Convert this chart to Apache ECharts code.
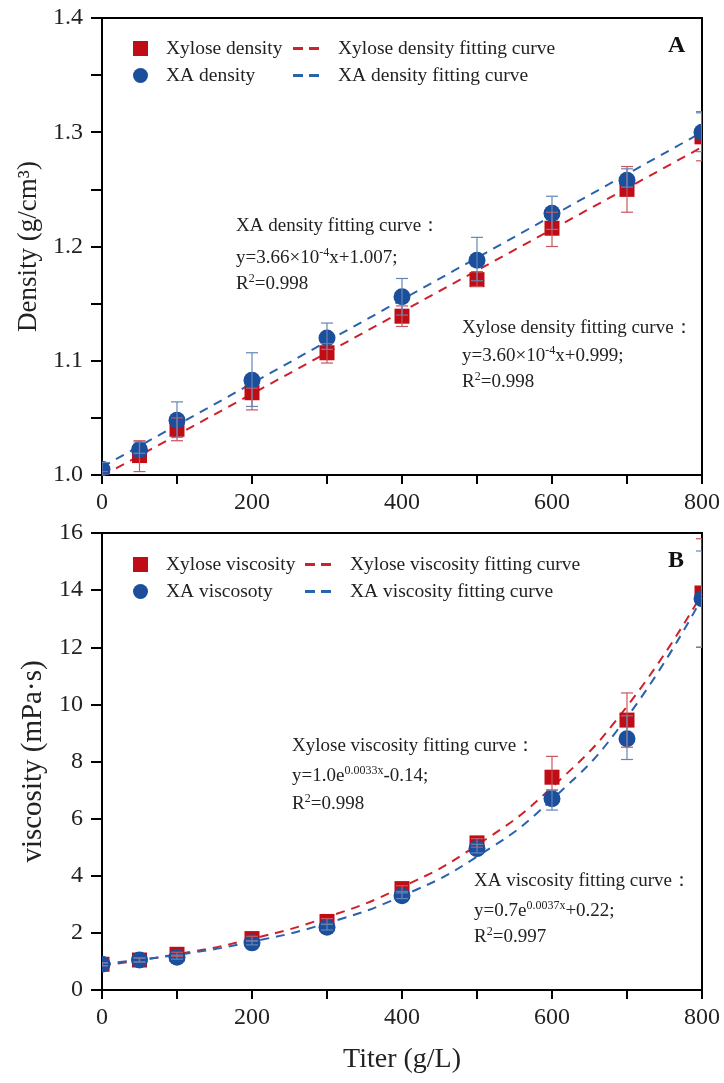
<!DOCTYPE html>
<html>
<head>
<meta charset="utf-8">
<script src="https://cdn.jsdelivr.net/npm/echarts@6/dist/echarts.min.js"></script>
<style>
html,body{margin:0;padding:0;background:#fff;}
#box{width:724px;height:1083px;}
</style>
</head>
<body>
<div id="box"></div>
<script>
// 横坐标 titer (g/L)
var titer = [0, 50, 100, 200, 300, 400, 500, 600, 700, 800];

// 密度 (g/cm3)
var xyDensity = [1.000, 1.017, 1.040, 1.072, 1.107, 1.139, 1.171, 1.216, 1.250, 1.296];
var xyDensityLow = [0.998, 1.003, 1.030, 1.057, 1.098, 1.130, 1.165, 1.200, 1.230, 1.275];
var xyDensityHigh = [1.003, 1.030, 1.050, 1.076, 1.115, 1.148, 1.178, 1.230, 1.270, 1.318];
var xaDensity = [1.005, 1.022, 1.048, 1.083, 1.120, 1.156, 1.188, 1.229, 1.258, 1.300];
var xaDensityLow = [1.000, 1.019, 1.033, 1.060, 1.110, 1.140, 1.170, 1.215, 1.252, 1.283];
var xaDensityHigh = [1.011, 1.029, 1.064, 1.107, 1.133, 1.172, 1.208, 1.244, 1.268, 1.317];

// 拟合线
var fitXDensity = [0, 800];
var xyDensityFit = [0.999, 1.287];
var xaDensityFit = [1.007, 1.300];

// 粘度 (mPa·s)
var xyVisc = [0.90, 1.05, 1.25, 1.80, 2.40, 3.55, 5.15, 7.45, 9.45, 13.90];
var xyViscLow = [0.85, 0.98, 1.18, 1.72, 2.30, 3.45, 5.00, 7.00, 8.50, 12.00];
var xyViscHigh = [0.95, 1.12, 1.32, 1.88, 2.50, 3.65, 5.30, 8.18, 10.40, 15.80];
var xaVisc = [0.90, 1.05, 1.15, 1.65, 2.20, 3.30, 4.95, 6.70, 8.80, 13.70];
var xaViscLow = [0.85, 0.98, 1.08, 1.58, 2.10, 3.20, 4.80, 6.30, 8.07, 12.00];
var xaViscHigh = [0.95, 1.12, 1.22, 1.72, 2.30, 3.40, 5.10, 7.00, 9.60, 15.37];

var fitXVisc = [0, 100, 200, 300, 400, 500, 600, 700, 800];
var xyViscFit = [0.86, 1.25, 1.79, 2.55, 3.60, 5.07, 7.10, 9.93, 13.87];
var xaViscFit = [0.92, 1.23, 1.69, 2.34, 3.29, 4.67, 6.67, 9.55, 13.73];

var RED = '#c00c14';
var BLUE = '#1b4e9b';
var RED_ERR = '#c8565c';
var BLUE_ERR = '#6386b8';
var RED_LINE = '#d0202c';
var BLUE_LINE = '#2a62ad';
var FONT = 'Liberation Serif';
var DASH_ICON = 'path://M0,0H10V3H0Z M16,0H26V3H16Z';

function pairs(xs, ys) {
	var arr = [];
	for (var i = 0; i < xs.length; i++) arr.push([xs[i], ys[i]]);
	return arr;
}
function triples(xs, lo, hi) {
	var arr = [];
	for (var i = 0; i < xs.length; i++) arr.push([xs[i], lo[i], hi[i]]);
	return arr;
}

// 误差棒
function errorSeries(name, idx, data, color) {
	return {
		name: name,
		type: 'custom',
		xAxisIndex: idx,
		yAxisIndex: idx,
		clip: true,
		z: 4,
		renderItem: function (params, api) {
			var x = api.value(0);
			var lo = api.coord([x, api.value(1)]);
			var hi = api.coord([x, api.value(2)]);
			var w = 6;
			var st = { stroke: color, lineWidth: 1.2 };
			return {
				type: 'group',
				children: [
					{ type: 'line', shape: { x1: lo[0], y1: lo[1], x2: hi[0], y2: hi[1] }, style: st },
					{ type: 'line', shape: { x1: lo[0] - w, y1: lo[1], x2: lo[0] + w, y2: lo[1] }, style: st },
					{ type: 'line', shape: { x1: hi[0] - w, y1: hi[1], x2: hi[0] + w, y2: hi[1] }, style: st }
				]
			};
		},
		encode: { x: 0, y: [1, 2] },
		data: data
	};
}

// 数据点(custom 以便在坐标系边缘裁切)
function markerSeries(name, idx, data, color, shape) {
	return {
		name: name,
		type: 'custom',
		xAxisIndex: idx,
		yAxisIndex: idx,
		clip: true,
		z: 3,
		itemStyle: { color: color },
		renderItem: function (params, api) {
			var p = api.coord([api.value(0), api.value(1)]);
			if (shape === 'rect') {
				return { type: 'rect', shape: { x: p[0] - 7.5, y: p[1] - 7.5, width: 15, height: 15 }, style: { fill: color } };
			}
			return { type: 'circle', shape: { cx: p[0], cy: p[1], r: 8.5 }, style: { fill: color } };
		},
		encode: { x: 0, y: 1 },
		data: data
	};
}

function fitSeries(name, idx, data, color, smooth) {
	return {
		name: name, type: 'line', xAxisIndex: idx, yAxisIndex: idx,
		symbol: 'none', smooth: smooth, z: 2, data: data,
		lineStyle: { color: color, width: 2, type: [9, 7] }, itemStyle: { color: color }
	};
}

var tickStyle = { color: '#000', width: 2 };
var tickLabel = { color: '#222', fontFamily: FONT, fontSize: 24, fontWeight: 'normal' };

function xAxisFor(idx, nameShow) {
	return {
		type: 'value',
		gridIndex: idx,
		min: 0, max: 800, interval: 200,
		axisLine: { lineStyle: { color: '#000', width: 2 } },
		axisTick: { inside: false, length: 9, lineStyle: tickStyle },
		minorTick: { show: true, splitNumber: 2, length: 9, lineStyle: tickStyle },
		splitLine: { show: false },
		axisLabel: Object.assign({ margin: 16 }, tickLabel),
		name: nameShow ? 'Titer (g/L)' : '',
		nameLocation: 'middle',
		nameGap: 56,
		nameTextStyle: { color: '#222', fontFamily: FONT, fontSize: 28 }
	};
}

function legendPair(top, left1, left2, names) {
	return [
		{
			left: left1, top: top, orient: 'vertical', itemGap: 0, itemWidth: 15, itemHeight: 15,
			textStyle: { fontFamily: FONT, fontSize: 19.5, color: '#222', lineHeight: 27, padding: [0, 0, 0, 13] },
			data: [{ name: names[0], icon: 'rect' }, { name: names[1], icon: 'circle' }]
		},
		{
			left: left2, top: top, orient: 'vertical', itemGap: 0, itemWidth: 26, itemHeight: 3,
			textStyle: { fontFamily: FONT, fontSize: 19.5, color: '#222', lineHeight: 27, padding: [0, 0, 0, 14] },
			data: [{ name: names[2], icon: DASH_ICON }, { name: names[3], icon: DASH_ICON }]
		}
	];
}

// 拟合公式注释
var rich = {
	t: { fontSize: 19, fontFamily: FONT, color: '#222', lineHeight: 22 },
	s: { fontSize: 12, fontFamily: FONT, color: '#222', lineHeight: 14, verticalAlign: 'top' }
};
function note(left, centers, lines) {
	var out = [];
	for (var i = 0; i < lines.length; i++) {
		out.push({
			type: 'text',
			left: left,
			top: centers[i] - 11,
			style: { text: lines[i], rich: rich, fontFamily: FONT, fontSize: 19, fill: '#222' }
		});
	}
	return out;
}

var dom = document.getElementById('box');
var myChart = echarts.init(dom);
var option = {
	backgroundColor: '#fff',
	animation: false,
	textStyle: { fontFamily: FONT },
	grid: [
		{ left: 102, top: 18, width: 600, height: 457, show: true, borderColor: '#000', borderWidth: 2 },
		{ left: 102, top: 533, width: 600, height: 457, show: true, borderColor: '#000', borderWidth: 2 }
	],
	xAxis: [xAxisFor(0, false), xAxisFor(1, true)],
	yAxis: [
		{
			type: 'value', gridIndex: 0,
			min: 1.0, max: 1.4, interval: 0.1,
			axisLine: { lineStyle: { color: '#000', width: 2 } },
			axisTick: { inside: false, length: 11, lineStyle: tickStyle },
			minorTick: { show: true, splitNumber: 2, length: 11, lineStyle: tickStyle },
			splitLine: { show: false },
			axisLabel: Object.assign({ margin: 19, formatter: function (v) { return v.toFixed(1); } }, tickLabel),
			name: 'Density (g/cm³)',
			nameLocation: 'middle',
			nameGap: 56,
			nameTextStyle: { color: '#222', fontFamily: FONT, fontSize: 27 }
		},
		{
			type: 'value', gridIndex: 1,
			min: 0, max: 16, interval: 2,
			axisLine: { lineStyle: { color: '#000', width: 2 } },
			axisTick: { inside: false, length: 11, lineStyle: tickStyle },
			splitLine: { show: false },
			axisLabel: Object.assign({ margin: 19 }, tickLabel),
			name: 'viscosity (mPa·s)',
			nameLocation: 'middle',
			nameGap: 48,
			nameTextStyle: { color: '#222', fontFamily: FONT, fontSize: 29 }
		}
	],
	legend: legendPair(30, 128, 288, ['Xylose density', 'XA density', 'Xylose density fitting curve', 'XA density fitting curve'])
		.concat(legendPair(546, 128, 300, ['Xylose viscosity', 'XA viscosoty', 'Xylose viscosity fitting curve', 'XA viscosity fitting curve'])),
	graphic: [
		{ type: 'text', left: 668, top: 34, style: { text: 'A', font: 'bold 24px "Liberation Serif"', fill: '#111' } },
		{ type: 'text', left: 668, top: 549, style: { text: 'B', font: 'bold 24px "Liberation Serif"', fill: '#111' } }
	]
		.concat(note(236, [228, 258, 284], [
			'{t|XA density fitting curve：}',
			'{t|y=3.66×10}{s|-4}{t|x+1.007;}',
			'{t|R}{s|2}{t|=0.998}'
		]))
		.concat(note(462, [330, 356, 382], [
			'{t|Xylose density fitting curve：}',
			'{t|y=3.60×10}{s|-4}{t|x+0.999;}',
			'{t|R}{s|2}{t|=0.998}'
		]))
		.concat(note(292, [748, 776, 804], [
			'{t|Xylose viscosity fitting curve：}',
			'{t|y=1.0e}{s|0.0033x}{t|-0.14;}',
			'{t|R}{s|2}{t|=0.998}'
		]))
		.concat(note(474, [883, 911, 937], [
			'{t|XA viscosity fitting curve：}',
			'{t|y=0.7e}{s|0.0037x}{t|+0.22;}',
			'{t|R}{s|2}{t|=0.997}'
		])),
	series: [
		// 密度
		fitSeries('Xylose density fitting curve', 0, pairs(fitXDensity, xyDensityFit), RED_LINE, false),
		fitSeries('XA density fitting curve', 0, pairs(fitXDensity, xaDensityFit), BLUE_LINE, false),
		markerSeries('Xylose density', 0, pairs(titer, xyDensity), RED, 'rect'),
		markerSeries('XA density', 0, pairs(titer, xaDensity), BLUE, 'circle'),
		errorSeries('xyDensityErr', 0, triples(titer, xyDensityLow, xyDensityHigh), RED_ERR),
		errorSeries('xaDensityErr', 0, triples(titer, xaDensityLow, xaDensityHigh), BLUE_ERR),
		// 粘度
		fitSeries('Xylose viscosity fitting curve', 1, pairs(fitXVisc, xyViscFit), RED_LINE, true),
		fitSeries('XA viscosity fitting curve', 1, pairs(fitXVisc, xaViscFit), BLUE_LINE, true),
		markerSeries('Xylose viscosity', 1, pairs(titer, xyVisc), RED, 'rect'),
		markerSeries('XA viscosoty', 1, pairs(titer, xaVisc), BLUE, 'circle'),
		errorSeries('xyViscErr', 1, triples(titer, xyViscLow, xyViscHigh), RED_ERR),
		errorSeries('xaViscErr', 1, triples(titer, xaViscLow, xaViscHigh), BLUE_ERR)
	]
};

if (option && typeof option === "object") {
	myChart.setOption(option, true);
}
</script>
</body>
</html>
